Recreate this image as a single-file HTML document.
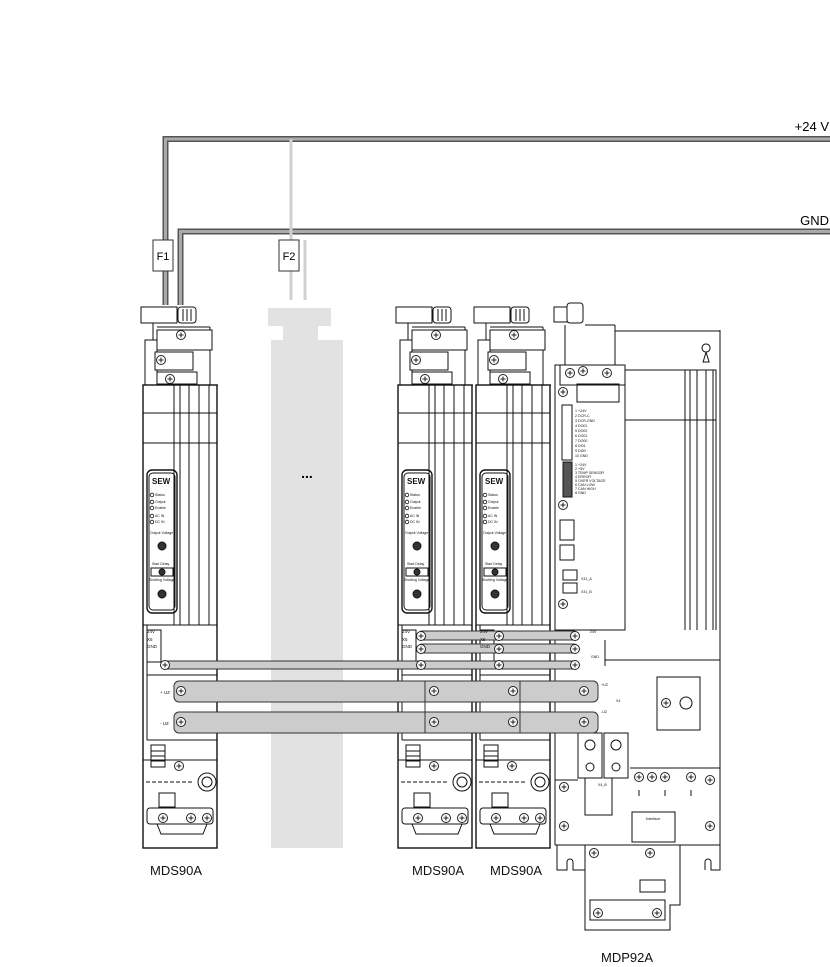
<!DOCTYPE html>
<html><head><meta charset="utf-8"><style>
html,body{margin:0;padding:0;background:#fff;}
svg{display:block;font-family:"Liberation Sans",sans-serif;}
</style></head><body>
<svg width="830" height="967" viewBox="0 0 830 967" xmlns="http://www.w3.org/2000/svg">
<defs>
<g id="scr"><circle r="4.5" fill="#fff" stroke="#222" stroke-width="1"/><path d="M-2.5 0H2.5M0 -2.5V2.5" stroke="#222" stroke-width="1"/></g>
<g id="mds" fill="none" stroke="#111" stroke-width="1">
  <!-- top connector -->
  <rect x="-2" y="307" width="36" height="16" fill="#fff"/>
  <rect x="35" y="307" width="18" height="16" rx="3" fill="#fff"/>
  <path d="M40 309V321M44 309V321M48 309V321"/>
  <path d="M10 323V340H14V385M10 340H2V385M67 327V385H75V385M14 327H67"/>
  <rect x="14" y="330" width="55" height="20" fill="#fff"/>
  <use href="#scr" x="38" y="335"/>
  <rect x="12" y="352" width="38" height="18" fill="#fff"/>
  <use href="#scr" x="18" y="360"/>
  <rect x="14" y="372" width="40" height="12" fill="#fff"/>
  <use href="#scr" x="27" y="379"/>
  <!-- body -->
  <rect x="0" y="385" width="74" height="463" fill="#fff" stroke-width="1.4"/>
  <path d="M31 385V625M37 385V625M46 385V625M56 385V625M66 385V625M0 413H74M0 443H74"/>
  <rect x="4" y="470" width="30" height="143" rx="5" stroke-width="1.4"/>
  <rect x="6" y="473" width="26" height="137" rx="4"/>
  <text x="9" y="484" font-size="8" font-weight="bold" fill="#111" stroke="none">SEW</text>
  <g font-size="3.5" fill="#111" stroke="none">
   <text x="12" y="496">Status</text><text x="12" y="503">Output</text><text x="12" y="509">Enable</text><text x="12" y="517">AC IN</text><text x="12" y="523">DC IN</text>
   <text x="7" y="534">Output Voltage</text><text x="9" y="565">Start Delay</text><text x="6" y="581">Shutting Voltage</text>
  </g>
  <g stroke-width="0.8"><circle cx="9" cy="495" r="1.8"/><circle cx="9" cy="502" r="1.8"/><circle cx="9" cy="508" r="1.8"/><circle cx="9" cy="516" r="1.8"/><circle cx="9" cy="522" r="1.8"/></g>
  <circle cx="19" cy="546" r="4" fill="#333"/><circle cx="19" cy="594" r="4" fill="#333"/>
  <rect x="8" y="568" width="22" height="8"/><circle cx="19" cy="572" r="3" fill="#333"/>
  <path d="M0 625H74M4 625V740M4 675H74M4 740H74M0 760H74"/>
  <rect x="4" y="630" width="14" height="32" fill="#fff"/>
  <rect x="8" y="745" width="14" height="22"/><path d="M8 751H22M8 756H22M8 761H22"/>
  <use href="#scr" x="36" y="766"/>
  <path d="M3 782H50" stroke-dasharray="4 2"/>
  <circle cx="64" cy="782" r="9" fill="#fff"/><circle cx="64" cy="782" r="5"/>
  <rect x="16" y="793" width="16" height="14"/>
  <rect x="4" y="808" width="66" height="16" rx="3" fill="#fff"/>
  <use href="#scr" x="20" y="818"/><use href="#scr" x="48" y="818"/><use href="#scr" x="64" y="818"/>
  <path d="M14 824L18 834H60L64 824"/>
</g>
</defs>

<!-- wires -->
<g stroke-linejoin="miter" fill="none">
 <path d="M165.5 305V139H830" stroke="#555" stroke-width="6"/>
 <path d="M165.5 305V139H830" stroke="#aaa" stroke-width="3"/>
 <path d="M180.5 305V231.5H830" stroke="#555" stroke-width="6"/>
 <path d="M180.5 305V231.5H830" stroke="#aaa" stroke-width="3"/>
 <path d="M291 139V300M305 240V300" stroke="#d0d0d0" stroke-width="3"/>
</g>
<rect x="153" y="240" width="20" height="31" fill="#fff" stroke="#333"/>
<text x="163" y="260" font-size="11" text-anchor="middle">F1</text>
<rect x="279" y="240" width="20" height="31" fill="#fff" stroke="#333"/>
<text x="289" y="260" font-size="11" text-anchor="middle">F2</text>
<text x="829" y="131" font-size="13" text-anchor="end">+24 V</text>
<text x="829" y="225" font-size="13" text-anchor="end">GND</text>

<!-- ghost module -->
<g fill="#e2e2e2">
 <rect x="268" y="308" width="63" height="18"/>
 <rect x="283" y="326" width="35" height="14"/>
 <rect x="271" y="340" width="72" height="508"/>
</g>
<text x="307" y="478" font-size="14" text-anchor="middle" font-weight="bold">...</text>

<use href="#mds" x="143"/>
<use href="#mds" x="398"/>
<use href="#mds" x="476"/>

<!-- MDP92A -->
<g fill="none" stroke="#111" stroke-width="1">
 <rect x="554" y="307" width="22" height="15" fill="#fff"/>
 <rect x="567" y="303" width="16" height="20" rx="3" fill="#fff"/>
 <path d="M565 325V365M585 325H615M615 325V365M555 365V845M720 330V845M615 331H720"/>
 <path d="M706 352a4 4 0 1 1 0.1 0l-3 10h6z"/>
 <rect x="560" y="365" width="65" height="20" fill="#fff"/>
 <use href="#scr" x="570" y="373"/><use href="#scr" x="583" y="371"/><use href="#scr" x="607" y="373"/>
 <rect x="555" y="365" width="70" height="265" fill="none"/>
 <path d="M625 370V630M625 370H716V630M625 420H716M685 370V630M690 370V630M697 370V630M706 370V630M713 370V630"/>
 <rect x="562" y="405" width="10" height="55"/><rect x="563" y="462" width="9" height="35" fill="#555"/>
 <g font-size="3.6" fill="#111" stroke="none">
  <text x="575" y="412">1 +24V</text><text x="575" y="417">2 DCR-C</text><text x="575" y="422">3 DCR-GND</text><text x="575" y="427">4 DO01</text><text x="575" y="432">5 DO02</text><text x="575" y="437">6 DO01</text><text x="575" y="442">7 DO00</text><text x="575" y="447">8 DI01</text><text x="575" y="452">9 DI00</text><text x="575" y="457">10 GND</text>
  <text x="575" y="466">1 +24V</text><text x="575" y="470">2 +5V</text><text x="575" y="474">3 TEMP SENSOR</text><text x="575" y="478">4 ERROR</text><text x="575" y="482">5 OVER VOLTAGE</text><text x="575" y="486">6 CAN LOW</text><text x="575" y="490">7 CAN HIGH</text><text x="575" y="494">8 GND</text>
  <text x="581" y="580">X31_A</text><text x="581" y="593">X31_B</text><text x="590" y="633">24V</text><text x="591" y="658">GND</text><text x="601" y="686">+UZ</text><text x="601" y="713">-UZ</text><text x="616" y="702">X4</text><text x="598" y="786">X4_B</text>
 </g>
 <rect x="577" y="384" width="42" height="18"/>
 <rect x="560" y="520" width="14" height="20"/><rect x="560" y="545" width="14" height="15"/>
 <rect x="563" y="570" width="14" height="10"/><rect x="563" y="583" width="14" height="10"/>
 <use href="#scr" x="563" y="392"/><use href="#scr" x="563" y="505"/><use href="#scr" x="563" y="604"/>
 <path d="M555 630H625M605 640V666M605 660H720"/>
 <rect x="657" y="677" width="43" height="53"/>
 <use href="#scr" x="666" y="703"/><circle cx="686" cy="703" r="6"/>
 <rect x="578" y="733" width="24" height="45"/><rect x="604" y="733" width="24" height="45"/>
 <circle cx="590" cy="745" r="5"/><circle cx="616" cy="745" r="5"/><circle cx="590" cy="767" r="4"/><circle cx="616" cy="767" r="4"/>
 <path d="M630 768H720M555 780H578M585 778V815H612V778"/>
 <use href="#scr" x="639" y="777"/><use href="#scr" x="652" y="777"/><use href="#scr" x="665" y="777"/><use href="#scr" x="691" y="777"/><use href="#scr" x="710" y="780"/>
 <path d="M639 790v6M665 790v6M691 790v6"/>
 <use href="#scr" x="564" y="787"/><use href="#scr" x="564" y="826"/><use href="#scr" x="710" y="826"/>
 <rect x="632" y="812" width="43" height="30"/>
 <text x="653" y="820" font-size="3.8" text-anchor="middle" fill="#111" stroke="none">Interface</text>
 <path d="M555 845H720M557 845V870H567V862a3 3 0 0 1 6 0V870H585M705 870V862a3 3 0 0 1 6 0V870H720V845M585 845V930H670V905H680V845"/>
 <use href="#scr" x="594" y="853"/><use href="#scr" x="650" y="853"/>
 <rect x="640" y="880" width="25" height="12"/>
 <rect x="590" y="900" width="75" height="20"/><use href="#scr" x="598" y="913"/><use href="#scr" x="657" y="913"/>
</g>

<!-- busbars -->
<g stroke="#333" stroke-width="1">
 <rect x="418" y="631" width="160" height="9" rx="4" fill="#ccc"/>
 <rect x="418" y="644" width="160" height="9" rx="4" fill="#ccc"/>
 <rect x="161" y="661" width="418" height="8" rx="4" fill="#ccc"/>
 <rect x="174" y="681" width="424" height="21" rx="5" fill="#ccc"/>
 <rect x="174" y="712" width="424" height="21" rx="5" fill="#ccc"/>
 <path d="M425 681V733M520 681V733" fill="none"/>
</g>
<g>
 <use href="#scr" x="421" y="636"/><use href="#scr" x="499" y="636"/><use href="#scr" x="575" y="636"/>
 <use href="#scr" x="421" y="649"/><use href="#scr" x="499" y="649"/><use href="#scr" x="575" y="649"/>
 <use href="#scr" x="165" y="665"/><use href="#scr" x="421" y="665"/><use href="#scr" x="499" y="665"/><use href="#scr" x="575" y="665"/>
 <use href="#scr" x="181" y="691"/><use href="#scr" x="434" y="691"/><use href="#scr" x="513" y="691"/><use href="#scr" x="584" y="691"/>
 <use href="#scr" x="181" y="722"/><use href="#scr" x="434" y="722"/><use href="#scr" x="513" y="722"/><use href="#scr" x="584" y="722"/>
</g>
<g font-size="4.5" fill="#111">
 <text x="160" y="694">+ UZ</text><text x="160" y="725">- UZ</text>
 <text x="147" y="633">24V</text><text x="147" y="641">X5</text><text x="147" y="648">GND</text>
 <text x="402" y="633">24V</text><text x="402" y="641">X5</text><text x="402" y="648">GND</text>
 <text x="480" y="633">24V</text><text x="480" y="641">X5</text><text x="480" y="648">GND</text>
</g>

<g font-size="13" fill="#111">
 <text x="150" y="875">MDS90A</text>
 <text x="412" y="875">MDS90A</text>
 <text x="490" y="875">MDS90A</text>
 <text x="601" y="962">MDP92A</text>
</g>
</svg>
</body></html>
